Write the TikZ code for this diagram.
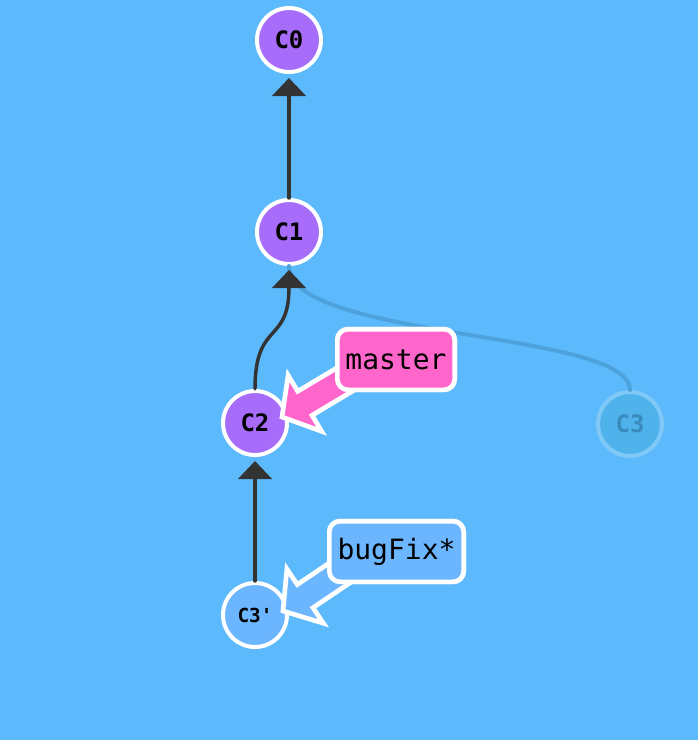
\documentclass[tikz,border=0pt]{standalone}
\usepackage{fontspec}
\setmonofont{DejaVu Sans Mono}
\usetikzlibrary{arrows.meta,calc}

\definecolor{bgblue}{RGB}{92,186,252}
\definecolor{commitpurple}{RGB}{167,108,249}
\definecolor{branchpink}{RGB}{255,102,204}
\definecolor{branchblue}{RGB}{107,182,255}
\definecolor{edgegray}{RGB}{51,51,51}
\definecolor{ghostfill}{RGB}{80,178,234}
\definecolor{ghostline}{RGB}{128,200,248}
\definecolor{ghosttext}{RGB}{58,138,190}
\definecolor{ghostedge}{RGB}{78,162,220}

% branch pointer: #1 tip, #2 point it comes from, #3 fill
\newcommand{\branchptr}[3]{%
  \filldraw[fill=#3, draw=white, line width=3.5pt, line join=miter]
    (#1) -- ($(#1)!20pt!(#2)!24.5pt!90:(#1)$) -- ($(#1)!20pt!(#2)!10.5pt!90:(#1)$)
    -- ($(#1)!62pt!(#2)!10.5pt!90:(#1)$) -- ($(#1)!62pt!(#2)!10.5pt!-90:(#1)$)
    -- ($(#1)!20pt!(#2)!10.5pt!-90:(#1)$) -- ($(#1)!20pt!(#2)!24.5pt!-90:(#1)$) -- cycle;}

\begin{document}
\begin{tikzpicture}[x=0.75pt, y=-0.75pt, line join=round, line cap=round,
    commit/.style={circle, draw=white, line width=3pt, fill=commitpurple, minimum size=48pt,
      inner sep=0pt, font=\ttfamily\bfseries\fontsize{18}{20}\selectfont},
    ghost/.style={commit, fill=ghostfill, draw=ghostline, text=ghosttext},
    branch/.style={draw=white, line width=3.5pt, rounded corners=8pt, minimum height=45.5pt,
      inner sep=0pt, font=\ttfamily\fontsize{21}{23}\selectfont},
    parent/.style={draw=edgegray, line width=2.6pt, -{Triangle[width=25pt,length=13.5pt]}, shorten >=3pt}]
  \useasboundingbox (0,0) rectangle (698,740);
  \fill[bgblue] (0,0) rectangle (698,740);

  % commits
  \node[commit] (c0) at (289,40) {C0};
  \node[commit] (c1) at (289,232) {C1};
  \node[commit] (c2) at (255,423) {C2};
  \node[ghost] (c3) at (630,424) {C3};
  \node[commit, fill=branchblue, font=\ttfamily\bfseries\fontsize{14.5}{16}\selectfont] (c3p) at (255,615) {C3'};

  % parents
  \draw[ghostedge, line width=3pt] (c3.north) .. controls (630,330) and (289,340) .. (c1.south);
  \draw[parent] (c1) -- (c0);
  \draw[parent] (c2.north) .. controls (255,320) and (289,345) .. (c1.south);
  \draw[parent] (c3p) -- (c2);

  % branches
  \node[branch, fill=branchpink, minimum width=88pt] (master) at (396,359.5) {master};
  \node[branch, fill=branchblue, minimum width=100.75pt] (bugfix) at (396.5,551.5) {bugFix*};

  \coordinate (mtip) at ($(c2)+(27,-6)$);
  \coordinate (mfrom) at ($(master.south west)+(32,-26)$);
  \coordinate (btip) at ($(c3p)+(28,-4)$);
  \coordinate (bfrom) at ($(bugfix.south west)+(39,-29)$);
  \branchptr{mtip}{mfrom}{branchpink}
  \branchptr{btip}{bfrom}{branchblue}
  \node[branch, fill=branchpink, minimum width=88pt] at (master) {master};
  \node[branch, fill=branchblue, minimum width=100.75pt] at (bugfix) {bugFix*};
\end{tikzpicture}
\end{document}
